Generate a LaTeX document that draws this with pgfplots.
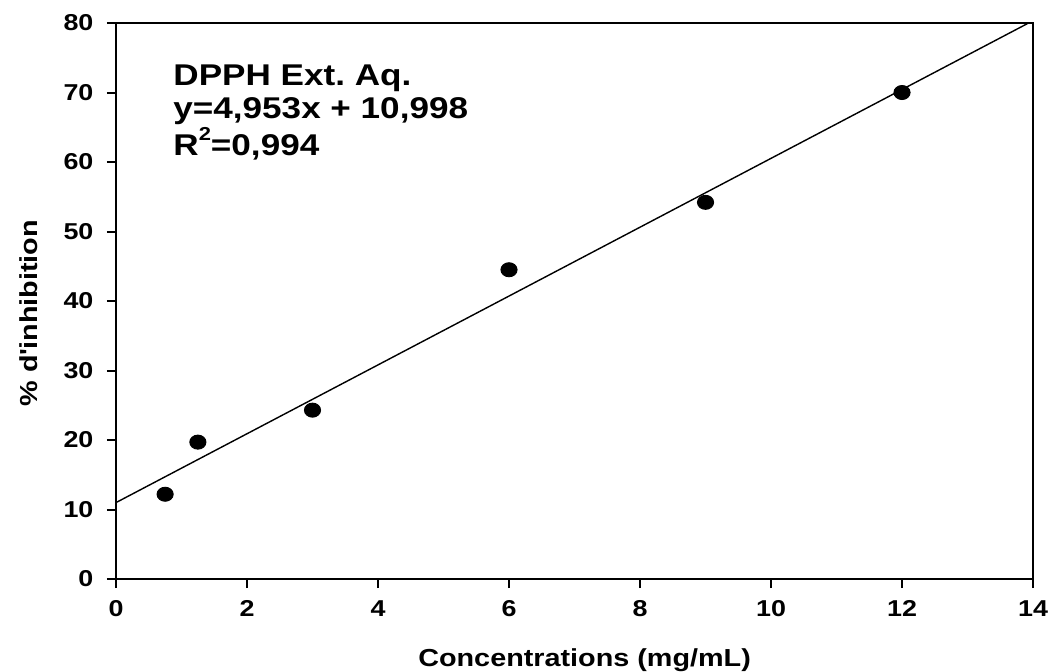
\documentclass[border=0pt]{standalone}
\usepackage{fontspec}
\setmainfont{Liberation Sans}[FakeStretch=1.17]
\usepackage{pgfplots}
\pgfplotsset{compat=1.18}
\frenchspacing

\begin{document}
\begin{tikzpicture}
\begin{axis}[
  scale only axis,
  width=13.755cm, height=8.34cm,
  xmin=0, xmax=14, ymin=0, ymax=80,
  xtick={0,2,...,14}, ytick={0,10,...,80},
  xtick pos=lower, ytick pos=left,
  tick align=outside,
  major tick length=0.135cm,
  axis line style={line width=0.85pt},
  every tick/.style={line width=0.85pt, black},
  /pgf/number format/assume math mode=true,
  ticklabel style={font=\bfseries\fontsize{9.8}{11}\selectfont},
  xticklabel style={yshift=-0.06cm},
  yticklabel style={xshift=-0.08cm},
  xlabel={Concentrations (mg/mL)},
  ylabel={\% d\textquotesingle inhibition},
  label style={font=\bfseries\fontsize{10.5}{12}\selectfont},
  xlabel style={at={(rel axis cs:0.511,-0.158)}, anchor=base},
  ylabel style={at={(rel axis cs:-0.0861,0.478)}, anchor=base},
  clip=true,
]
% regression line y = 4.953x + 10.998
\addplot[black, line width=0.6pt] coordinates {(0,10.998) (14,80.340)};
% measured points
\addplot[only marks, mark=*, mark size=3pt, mark options={fill=black, xscale=1.15}]
  coordinates {(0.75,12.2) (1.25,19.7) (3,24.3) (6,44.5) (9,54.2) (12,70.0)};
\node[anchor=north west, align=left, inner sep=0pt,
      font=\bfseries\fontsize{12.8}{14.2}\selectfont]
  at (axis cs:0.87,74.1) {DPPH Ext. Aq.\\y=4,953x + 10,998\\R\raisebox{0.5em}{\fontsize{8}{8}\selectfont 2}=0,994};
\coordinate (bl) at (rel axis cs:-0.1265,-0.1655);
\coordinate (tr) at (rel axis cs:1.0185,1.0414);
\end{axis}
\pgfresetboundingbox
\path[use as bounding box] (bl) rectangle (tr);
\end{tikzpicture}
\end{document}
